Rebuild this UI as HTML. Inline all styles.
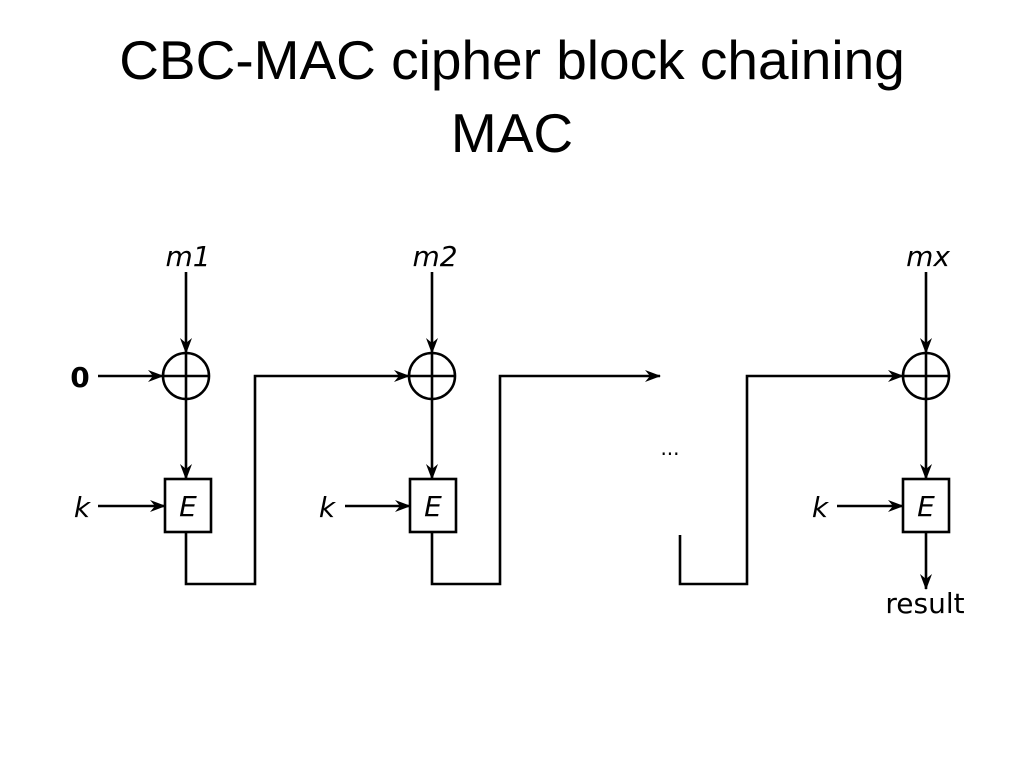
<!DOCTYPE html>
<html><head><meta charset="utf-8"><style>
html,body{margin:0;padding:0;background:#fff}
.t{position:absolute;left:0;width:1024px;text-align:center;font-family:"Liberation Sans",sans-serif;font-size:55px;color:#000;line-height:73px}
</style></head><body>
<div style="position:relative;width:1024px;height:768px;overflow:hidden">
<div class="t" style="top:24px">CBC-MAC cipher block chaining<br>MAC</div>
<svg width="1024" height="768" style="position:absolute;left:0;top:0" font-family="DejaVu Sans, sans-serif">
<defs><marker id="a" markerWidth="16" markerHeight="12" refX="15" refY="6" orient="auto" markerUnits="userSpaceOnUse"><path d="M0,0 L16,6 L0,12 L5,6 Z" fill="#000"/></marker></defs>
<g stroke="#000" stroke-width="2.6" fill="none">
<line x1="186" y1="272" x2="186" y2="353" marker-end="url(#a)"/>
<circle cx="186" cy="376" r="23"/><line x1="163" y1="376" x2="209" y2="376"/><line x1="186" y1="353" x2="186" y2="399"/>
<line x1="186" y1="399" x2="186" y2="479" marker-end="url(#a)"/>
<rect x="165" y="479" width="46" height="53"/>
<line x1="98" y1="376" x2="163" y2="376" marker-end="url(#a)"/>
<line x1="98" y1="506" x2="165" y2="506" marker-end="url(#a)"/>
<polyline points="186,532 186,584 255,584 255,376 409,376" marker-end="url(#a)"/>
<line x1="432" y1="272" x2="432" y2="353" marker-end="url(#a)"/>
<circle cx="432" cy="376" r="23"/><line x1="409" y1="376" x2="455" y2="376"/><line x1="432" y1="353" x2="432" y2="399"/>
<line x1="432" y1="399" x2="432" y2="479" marker-end="url(#a)"/>
<rect x="410" y="479" width="46" height="53"/>
<line x1="345" y1="506" x2="410" y2="506" marker-end="url(#a)"/>
<polyline points="432,532 432,584 500,584 500,376 660,376" marker-end="url(#a)"/>
<polyline points="680,535 680,584 747,584 747,376 903,376" marker-end="url(#a)"/>
<line x1="926" y1="272" x2="926" y2="353" marker-end="url(#a)"/>
<circle cx="926" cy="376" r="23"/><line x1="903" y1="376" x2="949" y2="376"/><line x1="926" y1="353" x2="926" y2="399"/>
<line x1="926" y1="399" x2="926" y2="479" marker-end="url(#a)"/>
<rect x="903" y="479" width="46" height="53"/>
<line x1="837" y1="506" x2="903" y2="506" marker-end="url(#a)"/>
<line x1="926" y1="532" x2="926" y2="589" marker-end="url(#a)"/>
</g>
<g font-size="28" fill="#000">
<text x="188" y="266" text-anchor="middle" font-style="italic">m1</text>
<text x="435" y="266" text-anchor="middle" font-style="italic">m2</text>
<text x="928" y="266" text-anchor="middle" font-style="italic">mx</text>
<text x="80" y="387" text-anchor="middle" font-weight="bold">0</text>
<text x="82" y="517" text-anchor="middle" font-style="italic">k</text>
<text x="327" y="517" text-anchor="middle" font-style="italic">k</text>
<text x="820" y="517" text-anchor="middle" font-style="italic">k</text>
<text x="188" y="516" text-anchor="middle" font-style="italic">E</text>
<text x="433" y="516" text-anchor="middle" font-style="italic">E</text>
<text x="926" y="516" text-anchor="middle" font-style="italic">E</text>
<text x="925" y="613" text-anchor="middle">result</text>
<text x="670" y="455" text-anchor="middle" font-size="20">...</text>
</g>
</svg>
</div>
</body></html>
